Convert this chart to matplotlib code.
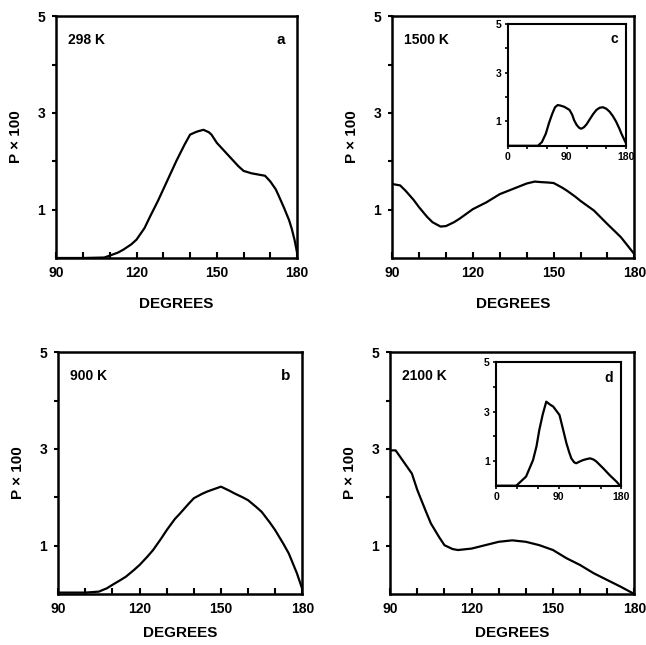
import matplotlib
matplotlib.use("Agg")
import matplotlib.pyplot as plt

plt.rcParams['font.family'] = ['Liberation Sans', 'DejaVu Sans']
plt.rcParams['font.weight'] = 'bold'

# Panel a: 298 K
deg_a = [90, 100, 108, 110, 113, 115, 118, 120, 123, 125, 128, 130, 133, 135, 138, 140,
         142, 143, 145, 147, 148, 150, 153, 155, 158, 160, 163, 165, 168, 170, 172,
         173, 175, 177, 178, 179, 180]
p_a = [0.0, 0.0, 0.01, 0.05, 0.11, 0.17, 0.28, 0.38, 0.62, 0.85, 1.18, 1.42, 1.78, 2.02,
       2.35, 2.55, 2.6, 2.62, 2.65, 2.6, 2.55, 2.38, 2.2, 2.08, 1.9, 1.8, 1.75, 1.73,
       1.7, 1.58, 1.42, 1.3, 1.05, 0.78, 0.6, 0.38, 0.1]

# Panel b: 900 K
deg_b = [90, 95, 100, 105, 108, 110, 113, 115, 118, 120, 123, 125, 128, 130, 133, 135, 138,
         140, 143, 145, 148, 150, 153, 155, 158, 160, 163, 165, 168, 170, 173, 175, 178, 180]
p_b = [0.03, 0.03, 0.03, 0.05, 0.12, 0.19, 0.29, 0.36, 0.5, 0.6, 0.78, 0.91, 1.15, 1.32,
       1.55, 1.67, 1.86, 1.98, 2.07, 2.12, 2.18, 2.22, 2.14, 2.08, 2.0, 1.94, 1.8, 1.7,
       1.48, 1.32, 1.04, 0.84, 0.43, 0.1]

# Panel c: 1500 K
deg_c = [90, 93, 95, 98, 100, 103, 105, 108, 110, 113, 115, 118, 120, 125, 130, 135, 140,
         143, 145, 148, 150, 153, 155, 158, 160, 165, 170, 175, 180]
p_c = [1.53, 1.5, 1.39, 1.2, 1.05, 0.85, 0.74, 0.65, 0.66, 0.74, 0.81, 0.93, 1.01, 1.15,
       1.32, 1.43, 1.54, 1.58, 1.57, 1.56, 1.55, 1.46, 1.39, 1.27, 1.18, 0.98, 0.7,
       0.43, 0.08]

# Inset c: full range 0-180
deg_ci = [0, 46, 52, 58, 63, 68, 72, 76, 80, 86, 94, 98, 101, 105, 109, 112, 116, 120, 124,
          130, 135, 140, 145, 150, 155, 160, 165, 170, 173, 180]
p_ci = [0.0, 0.0, 0.15, 0.5, 0.95, 1.33, 1.58, 1.67, 1.65, 1.6, 1.47, 1.28, 1.05, 0.85,
        0.73, 0.7, 0.76, 0.88, 1.05, 1.3, 1.47, 1.56, 1.58, 1.52, 1.4, 1.22, 0.99, 0.7,
        0.5, 0.1]

# Panel d: 2100 K
deg_d = [90, 92, 95, 98, 100, 103, 105, 108, 110, 113, 115, 120, 125, 130, 135,
         140, 145, 150, 155, 160, 165, 170, 175, 180]
p_d = [2.97, 2.97, 2.73, 2.49, 2.15, 1.73, 1.46, 1.18, 1.01, 0.93, 0.91, 0.94, 1.01, 1.08,
       1.11, 1.08, 1.01, 0.91, 0.74, 0.6, 0.43, 0.29, 0.15, 0.0]

# Inset d: full range 0-180
deg_di = [0, 29, 43, 53, 58, 62, 67, 72, 77, 82, 91, 96, 101, 105, 108, 112, 115, 120, 125,
          130, 135, 140, 144, 154, 163, 173, 178, 180]
p_di = [0.0, 0.0, 0.37, 1.04, 1.6, 2.26, 2.9, 3.41, 3.3, 3.21, 2.87, 2.3, 1.72, 1.35, 1.11,
        0.95, 0.91, 0.98, 1.04, 1.08, 1.11, 1.06, 0.98, 0.7, 0.43, 0.16, 0.0, 0.0]

fig = plt.figure(figsize=(6.46, 6.45), dpi=100)


def main_panel(rect, x, y, temp, letter, xpad):
    ax = fig.add_axes(rect)
    ax.plot(x, y, color='black', linewidth=1.6)
    ax.set_xlim(90, 180)
    ax.set_ylim(0, 5)
    ax.set_xticks([90, 120, 150, 180])
    ax.set_xticks(range(90, 181, 10), minor=True)
    ax.set_yticks([1, 3, 5])
    ax.set_yticks([2, 4], minor=True)
    ax.tick_params(axis='x', which='both', direction='in', length=4, width=1.5,
                   labelsize=10, pad=6)
    ax.tick_params(axis='y', which='both', direction='out', length=3, width=1.5,
                   labelsize=10, pad=5)
    for lbl in ax.get_xticklabels() + ax.get_yticklabels():
        lbl.set_fontweight('bold')
    for s in ax.spines.values():
        s.set_linewidth(1.8)
    ax.set_xlabel('DEGREES', fontsize=11, fontweight='bold', labelpad=xpad)
    ax.set_ylabel('P × 100', fontsize=11, fontweight='bold', labelpad=10)
    ax.text(0.05, 0.93, temp, transform=ax.transAxes, fontsize=10,
            fontweight='bold', va='top', ha='left')
    if letter:
        ax.text(0.95, 0.93, letter, transform=ax.transAxes, fontsize=11,
                fontweight='bold', va='top', ha='right')
    return ax


def inset_panel(rect, x, y, letter):
    ax = fig.add_axes(rect)
    ax.plot(x, y, color='black', linewidth=1.6)
    ax.set_xlim(0, 180)
    ax.set_ylim(0, 5)
    ax.set_xticks([0, 90, 180])
    ax.set_xticks(range(0, 181, 30), minor=True)
    ax.set_yticks([1, 3, 5])
    ax.set_yticks([2, 4], minor=True)
    ax.tick_params(axis='both', which='both', direction='out', length=2.5, width=1.2,
                   labelsize=7.5, pad=2)
    for lbl in ax.get_xticklabels() + ax.get_yticklabels():
        lbl.set_fontweight('bold')
    for s in ax.spines.values():
        s.set_linewidth(1.5)
    ax.text(0.93, 0.93, letter, transform=ax.transAxes, fontsize=10,
            fontweight='bold', va='top', ha='right')
    return ax


main_panel([0.087, 0.600, 0.373, 0.375], deg_a, p_a, '298 K', 'a', 12)
main_panel([0.607, 0.600, 0.375, 0.375], deg_c, p_c, '1500 K', None, 12)
main_panel([0.090, 0.079, 0.378, 0.375], deg_b, p_b, '900 K', 'b', 7)
main_panel([0.604, 0.079, 0.378, 0.375], deg_d, p_d, '2100 K', None, 7)

inset_panel([0.786, 0.774, 0.183, 0.189], deg_ci, p_ci, 'c')
inset_panel([0.768, 0.247, 0.194, 0.191], deg_di, p_di, 'd')

fig.savefig('out.png', dpi=100)
